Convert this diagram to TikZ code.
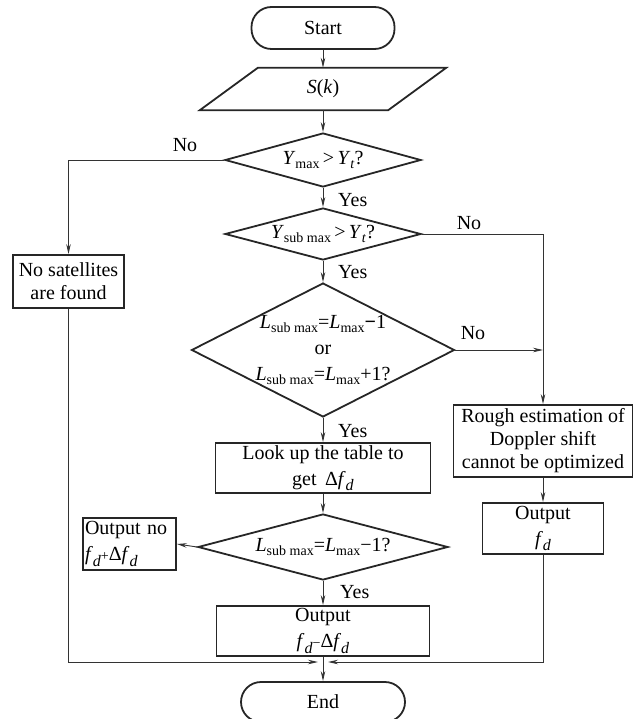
\documentclass[tikz,border=0pt]{standalone}
\usepackage{fontspec}
\setmainfont{Liberation Serif}
\usetikzlibrary{arrows.meta,shapes.geometric}
\newcommand{\lsub}[1]{\raisebox{-0.45ex}{\fontsize{14}{14}\selectfont #1}}
\newcommand{\dsub}[1]{\raisebox{-0.6ex}{\fontsize{16}{16}\selectfont #1}}
\newcommand{\smop}[1]{{\fontsize{14}{14}\selectfont #1}}
\newcommand{\fd}{\textit{f}\dsub{\textit{d}}}
\begin{document}
\begin{tikzpicture}[x=1pt,y=-1pt,
  every node/.style={font=\fontsize{20}{23}\selectfont, inner sep=0pt, align=center, text=black},
  box/.style={draw=black!85, line width=1.8pt, rectangle},
  term/.style={draw=black!85, line width=1.8pt, rectangle, rounded corners=20pt},
  dec/.style={draw=black!85, line width=1.8pt, shape=diamond},
  shapeline/.style={draw=black!85, line width=1.8pt, line join=miter},
  arr/.style={draw=black!80, line width=0.9pt, -{Stealth[length=10pt,width=4.5pt]}},
  lbl/.style={font=\fontsize{20}{23}\selectfont},
  twoline/.style={font=\fontsize{20}{26}\selectfont}
]
\useasboundingbox (0,0) rectangle (641,719);

% terminals
\node[term, minimum width=143pt, minimum height=42pt] (start) at (323,28) {Start};
\node[term, minimum width=164pt, minimum height=40pt] (end) at (323,702) {End};

% input parallelogram
\node[minimum width=188pt, minimum height=42pt] (sk) at (323,89) {\textit{S}(\textit{k})};
\draw[shapeline] ([xshift=-29pt]sk.south west) -- ([xshift=-29pt]sk.south east)
  -- ([xshift=29pt]sk.north east) -- ([xshift=29pt]sk.north west) -- cycle;

% decisions
\node[dec, minimum width=196pt, minimum height=54pt,
  label={center:\textit{Y}\lsub{max}\,>\,\textit{Y}\lsub{\textit{t}}?}] (d1) at (323,160) {};
\node[dec, minimum width=196pt, minimum height=52pt,
  label={center:\textit{Y}\lsub{sub max}\,>\,\textit{Y}\lsub{\textit{t}}?}] (d2) at (323,234) {};
\node[dec, minimum width=263pt, minimum height=134pt,
  label={[align=center, font=\fontsize{20}{26}\selectfont]center:\textit{L}\lsub{sub max}=\textit{L}\lsub{max}\textbf{−}1\\or\\\textit{L}\lsub{sub max}=\textit{L}\lsub{max}+1?}] (d3) at (323,350) {};
\node[dec, minimum width=250pt, minimum height=66pt,
  label={center:\textit{L}\lsub{sub max}=\textit{L}\lsub{max}−1?}] (d4) at (323,547) {};

% process boxes
\node[box, minimum width=111pt, minimum height=53pt] (nosat) at (68.5,281.5) {No satellites\\are found};
\node[box, twoline, minimum width=215pt, minimum height=50pt] (lookup) at (323,468) {Look up the table to\\get \,Δ\fd};
\node[box, twoline, minimum width=93pt, minimum height=52pt, align=left, text width=89pt] (outno) at (129.5,544) {Output no\\\fd\smop{+}Δ\fd};
\node[box, twoline, minimum width=213pt, minimum height=50pt] (outm) at (323,631) {Output\\\fd\smop{−}Δ\fd};
\node[box, minimum width=179pt, minimum height=72pt] (rough) at (543,441) {Rough estimation of\\Doppler shift\\cannot be optimized};
\node[box, twoline, minimum width=121pt, minimum height=51pt] (outfd) at (543,528.5) {Output\\\fd};

% junction above End
\coordinate (mj) at (323,662);

% connectors
\draw[arr] (start.south) -- (sk.north);
\draw[arr] (sk.south) -- (d1.north);
\draw[arr] (d1.south) -- (d2.north);
\draw[arr] (d2.south) -- (d3.north);
\draw[arr] (d3.south) -- (lookup.north);
\draw[arr] (lookup.south) -- (d4.north);
\draw[arr] (d4.south) -- (outm.north);
\draw[arr] (outm.south) -- (end.north);
\draw[arr] (d1.west) -| (nosat.north);
\draw[arr] (d2.east) -| (rough.north);
\draw[arr] (d3.east) -- (d3.east -| rough.north);
\draw[arr] (rough.south) -- (outfd.north);
\draw[arr] (d4.west) -- (outno.east);
\draw[arr] (nosat.south) |- ([xshift=-5pt]mj);
\draw[arr] (outfd.south) |- ([xshift=5pt]mj);

% branch labels
\node[lbl] (n1) at (185,145) {No};
\node[lbl, anchor=west] (y1) at (338,200) {Yes};
\node[lbl] (n2) at (469,223) {No};
\node[lbl, anchor=west] (y2) at (338,272) {Yes};
\node[lbl] (n3) at (473,333) {No};
\node[lbl, anchor=west] (y3) at (338,431) {Yes};
\node[lbl, anchor=west] (y4) at (340,592) {Yes};
\end{tikzpicture}
\end{document}
